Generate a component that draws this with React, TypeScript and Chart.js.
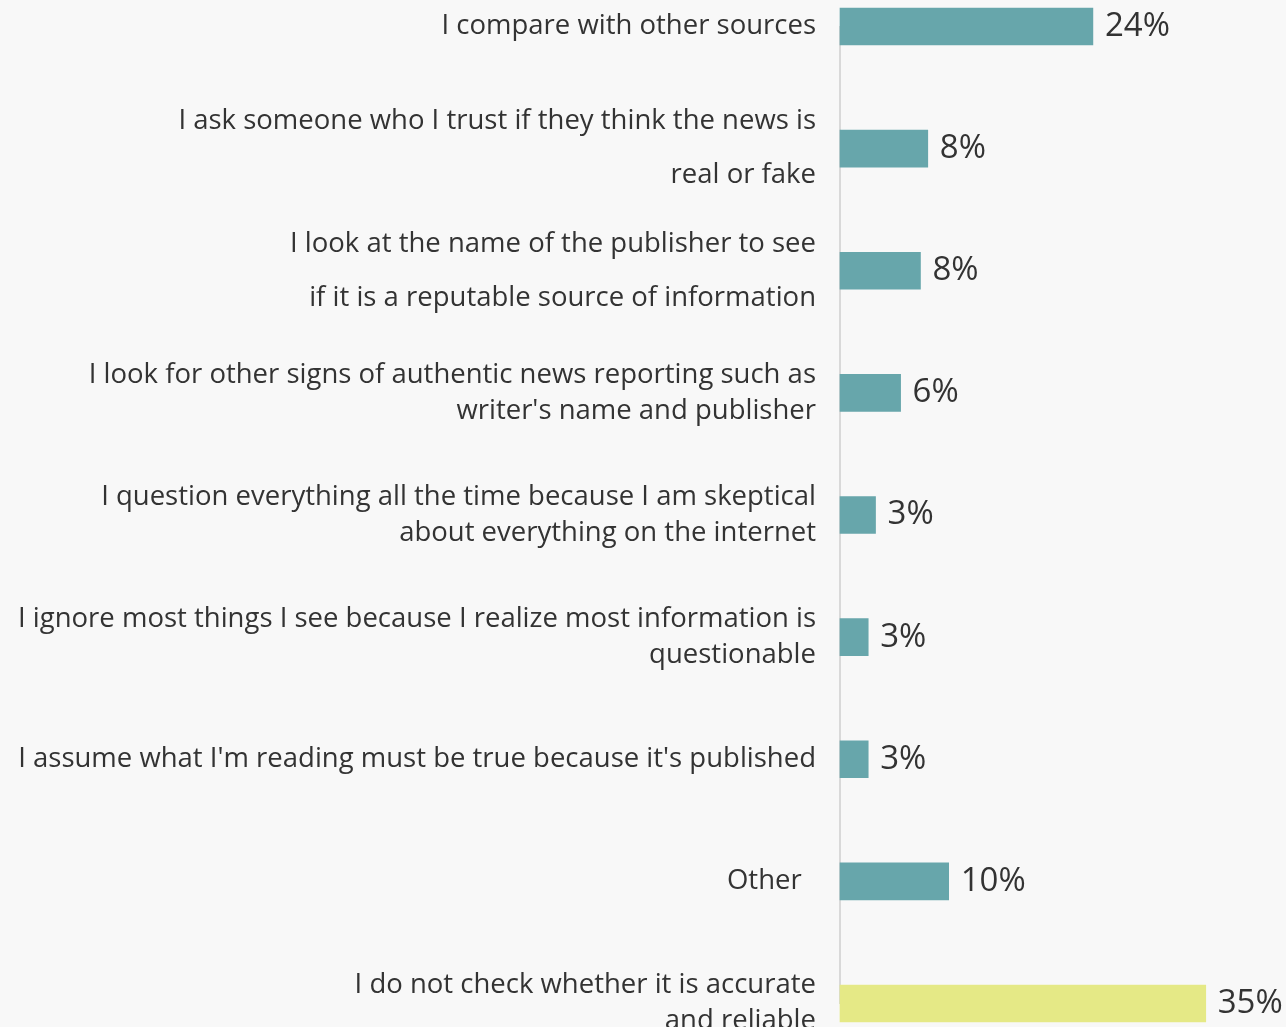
import React, { useEffect, useRef } from "react";
import { Chart, registerables } from "chart.js";

Chart.register(...registerables);

const categories: (string | string[])[] = [
  "I compare with other sources",
  ["I ask someone who I trust if they think the news is", "", "", "real or fake"],
  ["I look at the name of the publisher to see", "", "", "if it is a reputable source of information"],
  ["I look for other signs of authentic news reporting such as", "", "writer's name and publisher"],
  ["I question everything all the time because I am skeptical", "", "about everything on the internet"],
  ["I ignore most things I see because I realize most information is", "", "questionable"],
  "I assume what I'm reading must be true because it's published",
  "Other  ",
  ["I do not check whether it is accurate", "", "and reliable"],
];
const values = [24.2, 8.4, 7.7, 5.8, 3.4, 2.7, 2.7, 10.4, 35.0];
const valueLabels = ["24%", "8%", "8%", "6%", "3%", "3%", "3%", "10%", "35%"];
const barColors = ["#67a6ab", "#67a6ab", "#67a6ab", "#67a6ab", "#67a6ab", "#67a6ab", "#67a6ab", "#67a6ab", "#e5e986"];

const FONT = "'Open Sans', 'Noto Sans', sans-serif";

export default function App() {
  const ref = useRef<HTMLCanvasElement>(null);
  useEffect(() => {
    document.body.style.margin = "0";
    document.body.style.background = "#f8f8f8";
    const valuePlugin = {
      id: "valueLabels",
      afterDatasetsDraw(chart: any) {
        const ctx = chart.ctx;
        const meta = chart.getDatasetMeta(0);
        ctx.save();
        ctx.font = `33px ${FONT}`;
        ctx.fillStyle = "#333333";
        ctx.textBaseline = "middle";
        ctx.textAlign = "left";
        meta.data.forEach((bar: any, i: number) => {
          ctx.fillText(valueLabels[i], bar.x + 12, bar.y);
        });
        ctx.restore();
      },
    };
    const chart = new Chart(ref.current!, {
      type: "bar",
      data: {
        labels: categories,
        datasets: [
          {
            data: values,
            backgroundColor: barColors,
            barThickness: 37,
            clip: false as any,
          },
        ],
      },
      options: {
        indexAxis: "y",
        animation: false,
        responsive: false,
        maintainAspectRatio: false,
        layout: { padding: { top: 26.5, bottom: 23.5, right: 28, left: 0 } },
        plugins: { legend: { display: false }, tooltip: { enabled: false } },
        scales: {
          x: { display: false, min: 0, max: 40 },
          y: {
            offset: false,
            grid: { display: false },
            border: { display: true, color: "#d9d9d9", width: 2 },
            ticks: {
              color: "#333333",
              padding: 16,
              font: { family: FONT, size: 27.5, lineHeight: "18px" as any },
            },
            afterFit(scale: any) {
              scale.width = 840;
              scale.paddingTop = 0;
              scale.paddingBottom = 0;
            },
          },
        },
      },
      plugins: [valuePlugin],
    });
    return () => chart.destroy();
  }, []);
  return (
    <div style={{ width: 1286, height: 1027, background: "#f8f8f8" }}>
      <canvas ref={ref} width={1286} height={1027} style={{ display: "block" }} />
    </div>
  );
}
